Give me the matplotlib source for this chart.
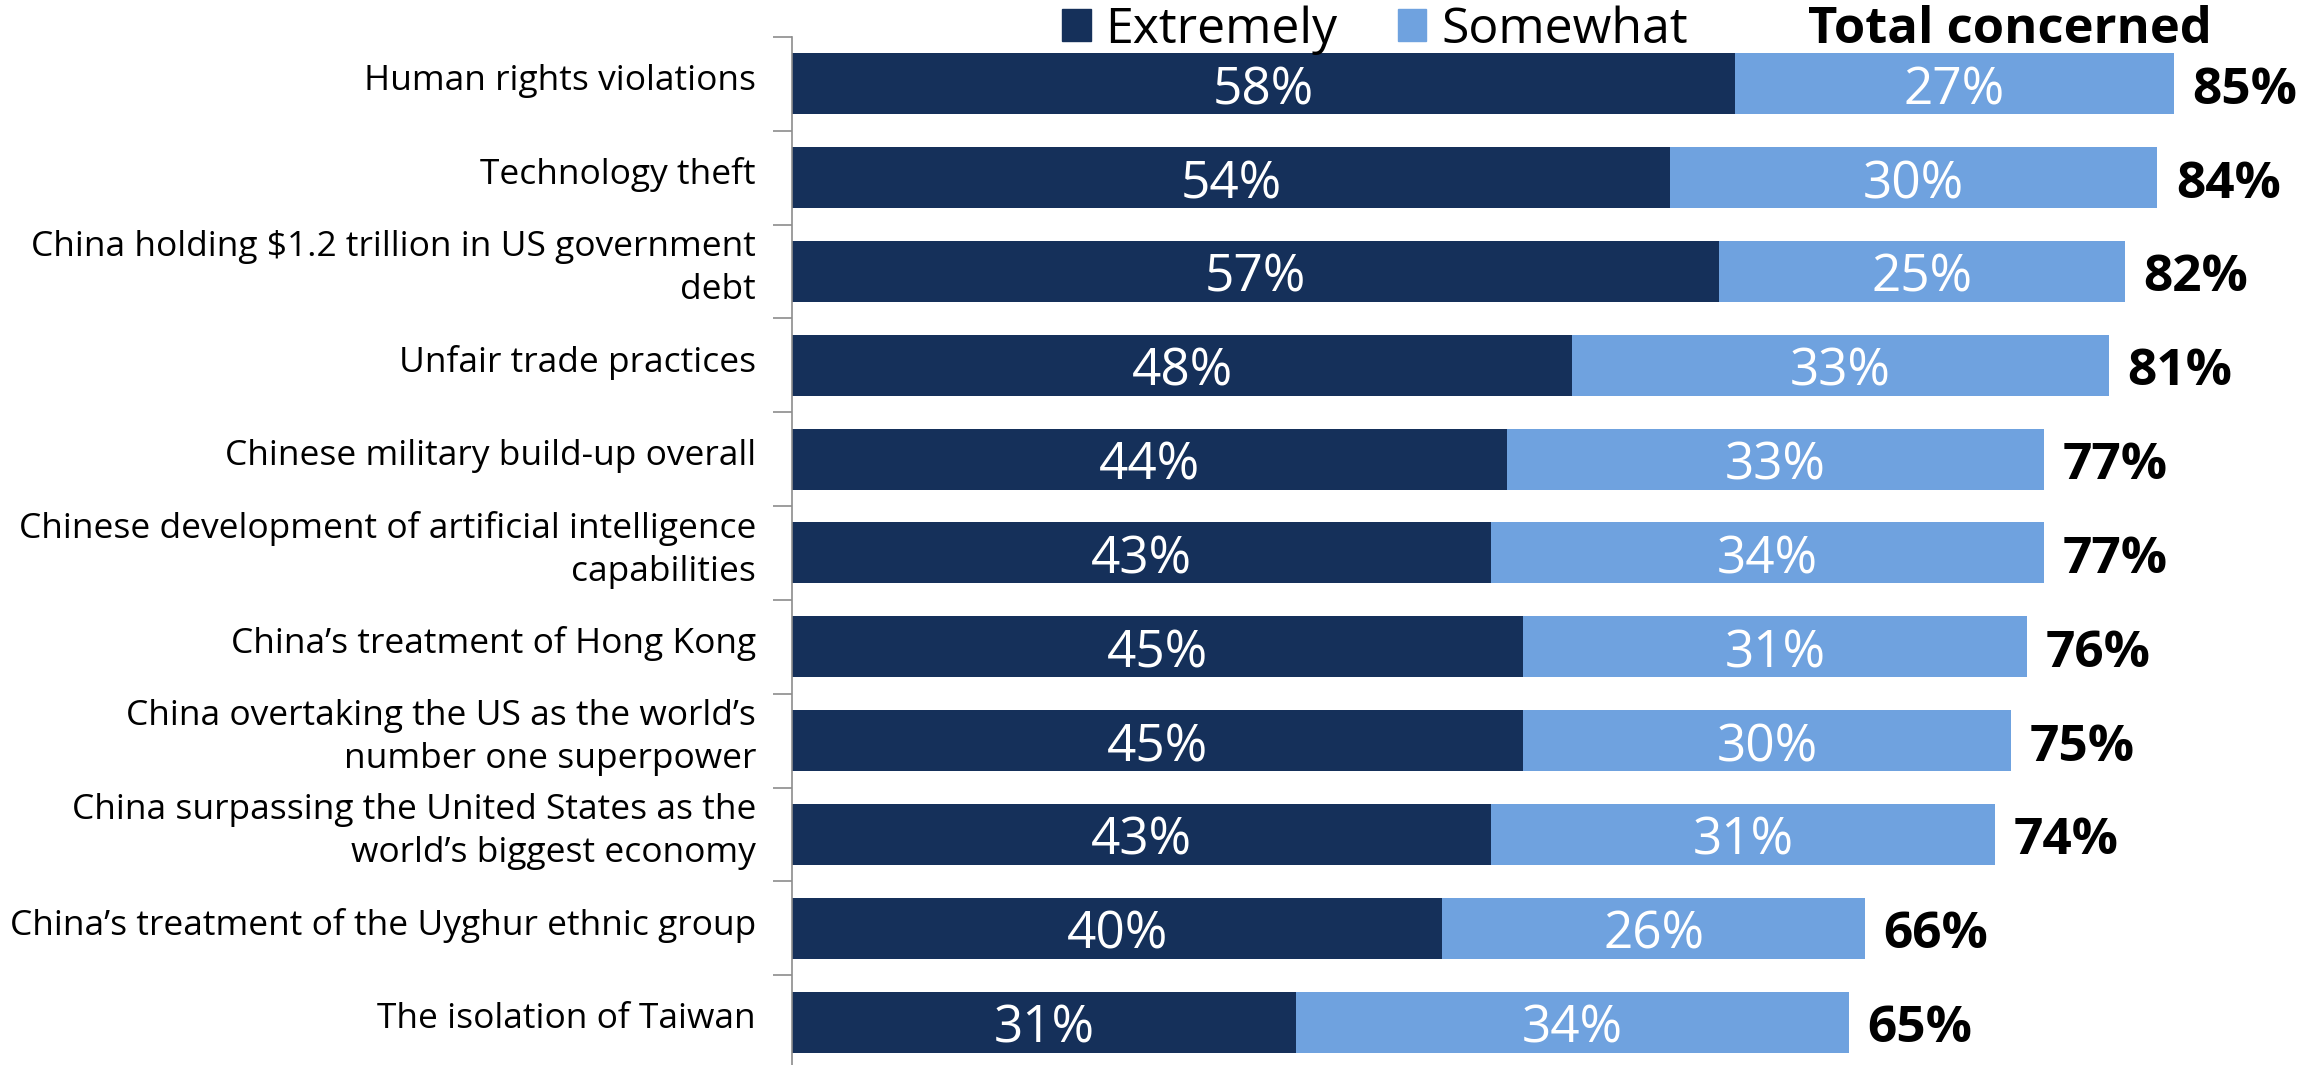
import matplotlib
matplotlib.use("Agg")
import matplotlib.pyplot as plt
import matplotlib.transforms as mtransforms
from matplotlib.patches import Patch

categories = [
    "Human rights violations",
    "Technology theft",
    "China holding $1.2 trillion in US government\ndebt",
    "Unfair trade practices",
    "Chinese military build-up overall",
    "Chinese development of artificial intelligence\ncapabilities",
    "China\u2019s treatment of Hong Kong",
    "China overtaking the US as the world\u2019s\nnumber one superpower",
    "China surpassing the United States as the\nworld\u2019s biggest economy",
    "China\u2019s treatment of the Uyghur ethnic group",
    "The isolation of Taiwan",
]
extremely = [58, 54, 57, 48, 44, 43, 45, 45, 43, 40, 31]
somewhat = [27, 30, 25, 33, 33, 34, 31, 30, 31, 26, 34]
series_names = ["Extremely", "Somewhat"]
total_title = "Total concerned"

DARK = "#15305A"
LIGHT = "#6FA2DF"
FONT = "Open Sans"

plt.rcParams["font.family"] = [FONT, "DejaVu Sans"]

W, H = 2323, 1065
DPI = 100
fig = plt.figure(figsize=(W / DPI, H / DPI), dpi=DPI)
ax = fig.add_axes([792 / W, -0.0038, 1528 / W, 0.9692])


def shifted(base, dx_px, dy_px):
    return base + mtransforms.ScaledTranslation(dx_px / DPI, dy_px / DPI, fig.dpi_scale_trans)


y = list(range(len(categories)))
ax.barh(y, extremely, height=0.65, color=DARK, label=series_names[0])
ax.barh(y, somewhat, left=extremely, height=0.65, color=LIGHT, label=series_names[1])

ax.set_xlim(0, 94)
ax.set_ylim(len(categories) - 0.5, -0.5)

VAL_FS = 37
val_tr = shifted(ax.transData, 0, -7)
for i, (e, s) in enumerate(zip(extremely, somewhat)):
    ax.text(e / 2, i, f"{e}%", ha="center", va="center", color="white",
            fontsize=VAL_FS, transform=val_tr)
    ax.text(e + s / 2, i, f"{s}%", ha="center", va="center", color="white",
            fontsize=VAL_FS, transform=val_tr)
    ax.text(e + s + 1.15, i, f"{e + s}%", ha="left", va="center", color="black",
            fontsize=VAL_FS, fontweight="bold", clip_on=False, transform=val_tr)

# Category labels, right-aligned to the left of the axis line
lab_tr = shifted(ax.get_yaxis_transform(), -36, 3)
for i, name in enumerate(categories):
    ax.text(0, i, name, ha="right", va="center", fontsize=25.5, linespacing=1.34,
            transform=lab_tr, clip_on=False)

for side in ["top", "right", "bottom"]:
    ax.spines[side].set_visible(False)
ax.spines["left"].set_color("#8C8C8C")
ax.spines["left"].set_linewidth(1.2)
ax.set_xticks([])
ax.set_yticks([i - 0.5 for i in range(len(categories) + 1)])
ax.set_yticklabels([])
ax.tick_params(axis="y", length=14, width=1.2, color="#8C8C8C", direction="out")

fig.legend(handles=[Patch(color=DARK), Patch(color=LIGHT)], labels=series_names,
           ncol=2, frameon=False, fontsize=36, loc="center left",
           bbox_to_anchor=(1062 / W, 1 - 30 / H), handlelength=0.57, handleheight=0.6,
           handletextpad=0.3, columnspacing=1.2, borderpad=0, borderaxespad=0)
fig.text(1808 / W, 1 - 30 / H, total_title, ha="left", va="center", fontsize=36.5,
         fontweight="bold")

fig.savefig("out.png", dpi=DPI)
